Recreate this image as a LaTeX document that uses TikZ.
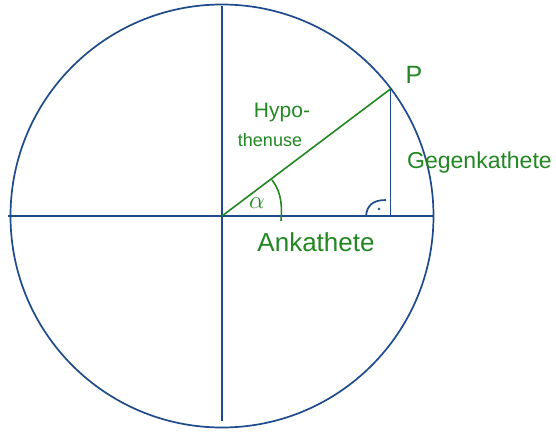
\documentclass[tikz,border=0pt]{standalone}
\usepackage{fontspec}
\setmainfont{Liberation Sans}
\definecolor{axisblue}{RGB}{30,75,140}
\definecolor{handgreen}{RGB}{34,135,34}
\begin{document}
\begin{tikzpicture}[x=1pt,y=-1pt,
  bluestroke/.style={draw=axisblue,line width=1.7pt},
  greenstroke/.style={draw=handgreen,line width=1.6pt},
  lbl/.style={text=handgreen,inner sep=0pt}]
\useasboundingbox (0,0) rectangle (556,434);
% points
\coordinate (O) at (222,216);
\coordinate (P) at (390.5,89);
\coordinate (F) at (390.5,216);
\coordinate (L) at (8,216);
\coordinate (R) at (434,216);
\coordinate (T) at (222,6);
\coordinate (B) at (222,421);
% circle and axes
\draw[bluestroke] (O) circle[radius=211.5];
\draw[bluestroke] (L) -- (R);
\draw[bluestroke] (T) -- (B);
% opposite leg
\draw[bluestroke] (P) -- (F);
% right angle mark
\coordinate (RA1) at (366,216);
\coordinate (RA2) at (386,200);
\draw[bluestroke] (RA1) .. controls (367,206) and (372,200) .. (RA2);
\fill[axisblue] (379,209) circle[radius=1.3];
% hypotenuse
\draw[greenstroke] (O) -- (P);
% angle arc
\coordinate (A1) at (272,180);
\coordinate (A2) at (281,221);
\draw[greenstroke] (A1) .. controls (278,188) and (283,198) .. (A2);
% labels
\node[lbl,font=\fontsize{25}{25}\selectfont] (pl) at (414,75) {P};
\node[lbl,font=\fontsize{21}{21}\selectfont] (hy1) at (282,112) {Hypo-};
\node[lbl,font=\fontsize{18}{18}\selectfont] (hy2) at (270,140) {thenuse};
\node[lbl,font=\fontsize{23}{23}\selectfont,anchor=west] (gk) at (407,163) {Gegenkathete};
\node[lbl,font=\fontsize{26}{26}\selectfont] (ak) at (316,242) {Ankathete};
\node[lbl,font=\fontsize{32}{32}\selectfont] (al) at (257,203) {$\alpha$};
\end{tikzpicture}
\end{document}
